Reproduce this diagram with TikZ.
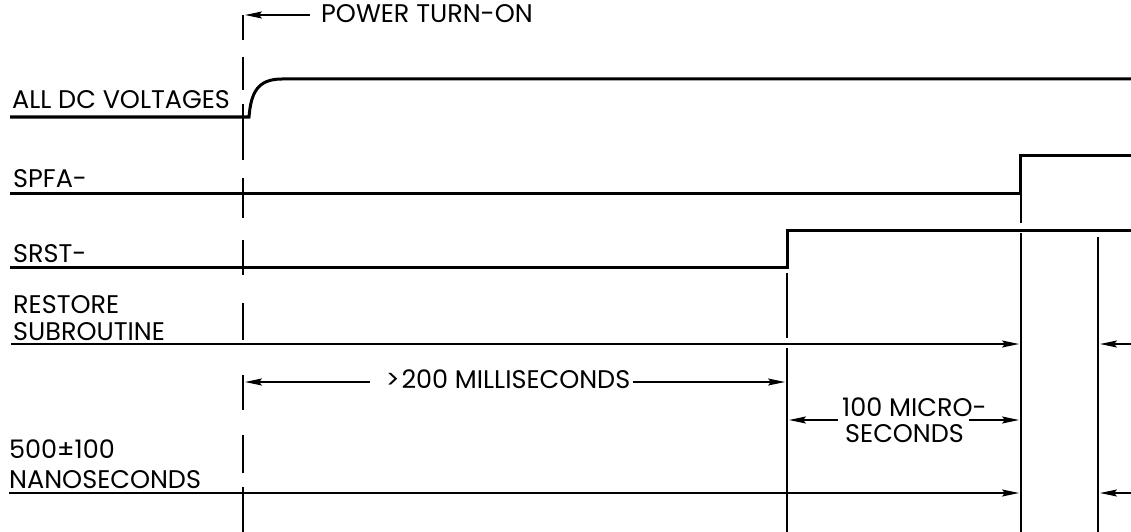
\documentclass[tikz,border=0pt]{standalone}
\usepackage{fontspec}
\setmainfont{Poppins}
\usetikzlibrary{arrows.meta}
\begin{document}
\begin{tikzpicture}[x=1pt,y=-1pt,
  sig/.style={line width=3pt, line join=miter},
  dimline/.style={line width=1.8pt},
  arr/.style={dimline,-{Stealth[length=17pt,width=7pt,inset=3pt]}},
  vline/.style={line width=2.3pt},
  txt/.style={font=\fontsize{25.5}{28}\selectfont, inner sep=0pt},
  lbl/.style={txt, anchor=base west},
]
\useasboundingbox[fill=white] (0,0) rectangle (1131,532);

% power turn-on dashed marker
\draw[vline] (243,15)--(243,40) (243,57)--(243,90) (243,104)--(243,160)
  (243,178)--(243,218) (243,240)--(243,275) (243,303)--(243,340)
  (243,375)--(243,410) (243,435)--(243,473) (243,487)--(243,532);

\node[lbl] (pwr) at (321,23) {POWER TURN-ON};
\coordinate (pwrStart) at (310,15);
\coordinate (pwrTip) at (245,15);
\draw[arr] (pwrStart) -- (pwrTip);

% ALL DC VOLTAGES
\node[lbl] (lall) at (12,109) {ALL DC VOLTAGES};
\draw[sig] (10,117) -- (249,117) .. controls (251,92) and (258,79) .. (282,79) -- (1131,79);

% SPFA-
\node[lbl] (lspfa) at (13,187) {SPFA-};
\draw[sig] (10,193) -- (1020,193) -- (1020,155) -- (1131,155);

% SRST-
\node[lbl] (lsrst) at (13,262) {SRST-};
\draw[sig] (10,267) -- (787,267) -- (787,230) -- (1131,230);

% vertical timing lines
\draw[vline] (787,273) -- (787,338) (787,348) -- (787,532);
\draw[vline] (1021,195) -- (1021,223) (1021,233) -- (1021,532);
\draw[vline] (1098,237) -- (1098,532);

% RESTORE SUBROUTINE
\node[lbl] (lres1) at (13,313) {RESTORE};
\node[lbl] (lres2) at (13,340) {SUBROUTINE};
\coordinate (resL) at (11,344);
\coordinate (resR) at (1019,344);
\coordinate (resE) at (1131,344);
\coordinate (resT) at (1100,344);
\draw[arr] (resL) -- (resR);
\draw[arr] (resE) -- (resT);

% >200 MILLISECONDS
\node[txt, anchor=base] (milli) at (508,388) {>\kern2pt 200 MILLISECONDS};
\coordinate (mLs) at (370,382);
\coordinate (mL) at (245,382);
\coordinate (mRs) at (633,382);
\coordinate (mR) at (785,382);
\draw[arr] (mLs) -- (mL);
\draw[arr] (mRs) -- (mR);

% 100 MICRO-SECONDS
\node[lbl] (micro1) at (842,416) {100 MICRO-};
\node[lbl] (micro2) at (845,442) {SECONDS};
\coordinate (uLs) at (838,420);
\coordinate (uL) at (789,420);
\coordinate (uRs) at (969,420);
\coordinate (uR) at (1019,420);
\draw[arr] (uLs) -- (uL);
\draw[arr] (uRs) -- (uR);

% 500+-100 NANOSECONDS
\node[lbl] (lns1) at (9,458) {500±100};
\node[lbl] (lns2) at (9,488) {NANOSECONDS};
\coordinate (nsL) at (9,493);
\coordinate (nsR) at (1019,493);
\coordinate (nsE) at (1131,493);
\coordinate (nsT) at (1100,493);
\draw[arr] (nsL) -- (nsR);
\draw[arr] (nsE) -- (nsT);
\end{tikzpicture}
\end{document}
